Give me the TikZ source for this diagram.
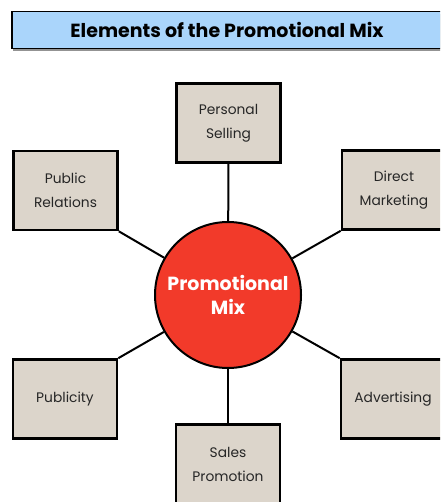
\documentclass[tikz,border=0pt]{standalone}
\usepackage{fontspec}
\setmainfont{Poppins}
\usepackage{tikz}
\usetikzlibrary{shapes, arrows.meta, positioning, shadows}
\definecolor{boxfill}{HTML}{DCD5CB}
\definecolor{mixred}{HTML}{F23A2A}
\definecolor{titleblue}{HTML}{AAD5FB}
\tikzstyle{block} = [draw, line width=2.6pt, fill=boxfill, rectangle, minimum width=104pt, minimum height=79pt, align=center, text=black!85, font=\fontsize{13.8}{24}\selectfont]
\tikzstyle{link} = [line width=2pt]

\begin{document}
\begin{tikzpicture}[x=1pt, y=-1pt]
    \useasboundingbox (0,0) rectangle (440,502);
    \clip (0,0) rectangle (440,502);
    \node [draw, line width=1.5pt, fill=titleblue, minimum width=436pt, minimum height=37pt, drop shadow={shadow xshift=1pt, shadow yshift=-2.5pt, opacity=0.85}, font=\fontsize{19}{22}\selectfont\bfseries] (title) at (230,30) {\hspace*{-6pt}Elements of the Promotional Mix};
    \node [draw, line width=2pt, fill=mixred, circle, minimum size=146pt, align=center, text=white, font=\fontsize{19}{24}\selectfont\bfseries] (mix) at (228,295) {Promotional\\Mix};
    \node [block] (selling) at (228.5,123) {Personal\\Selling};
    \node [block] (relations) at (65.5,190.5) {Public\\Relations};
    \node [block] (direct) at (394,190) {Direct\\Marketing};
    \node [block] (publicity) at (65,399) {Publicity};
    \node [block] (advertising) at (393,399) {Advertising};
    \node [block] (sales) at (228,464) {Sales\\Promotion};
    \draw [link] (selling) -- (mix);
    \draw [link] (relations.south east) -- (mix);
    \draw [link] (direct.south west) -- (mix);
    \draw [link] (publicity.north east) -- (mix);
    \draw [link] (advertising.north west) -- (mix);
    \draw [link] (sales) -- (mix);
\end{tikzpicture}
\end{document}
